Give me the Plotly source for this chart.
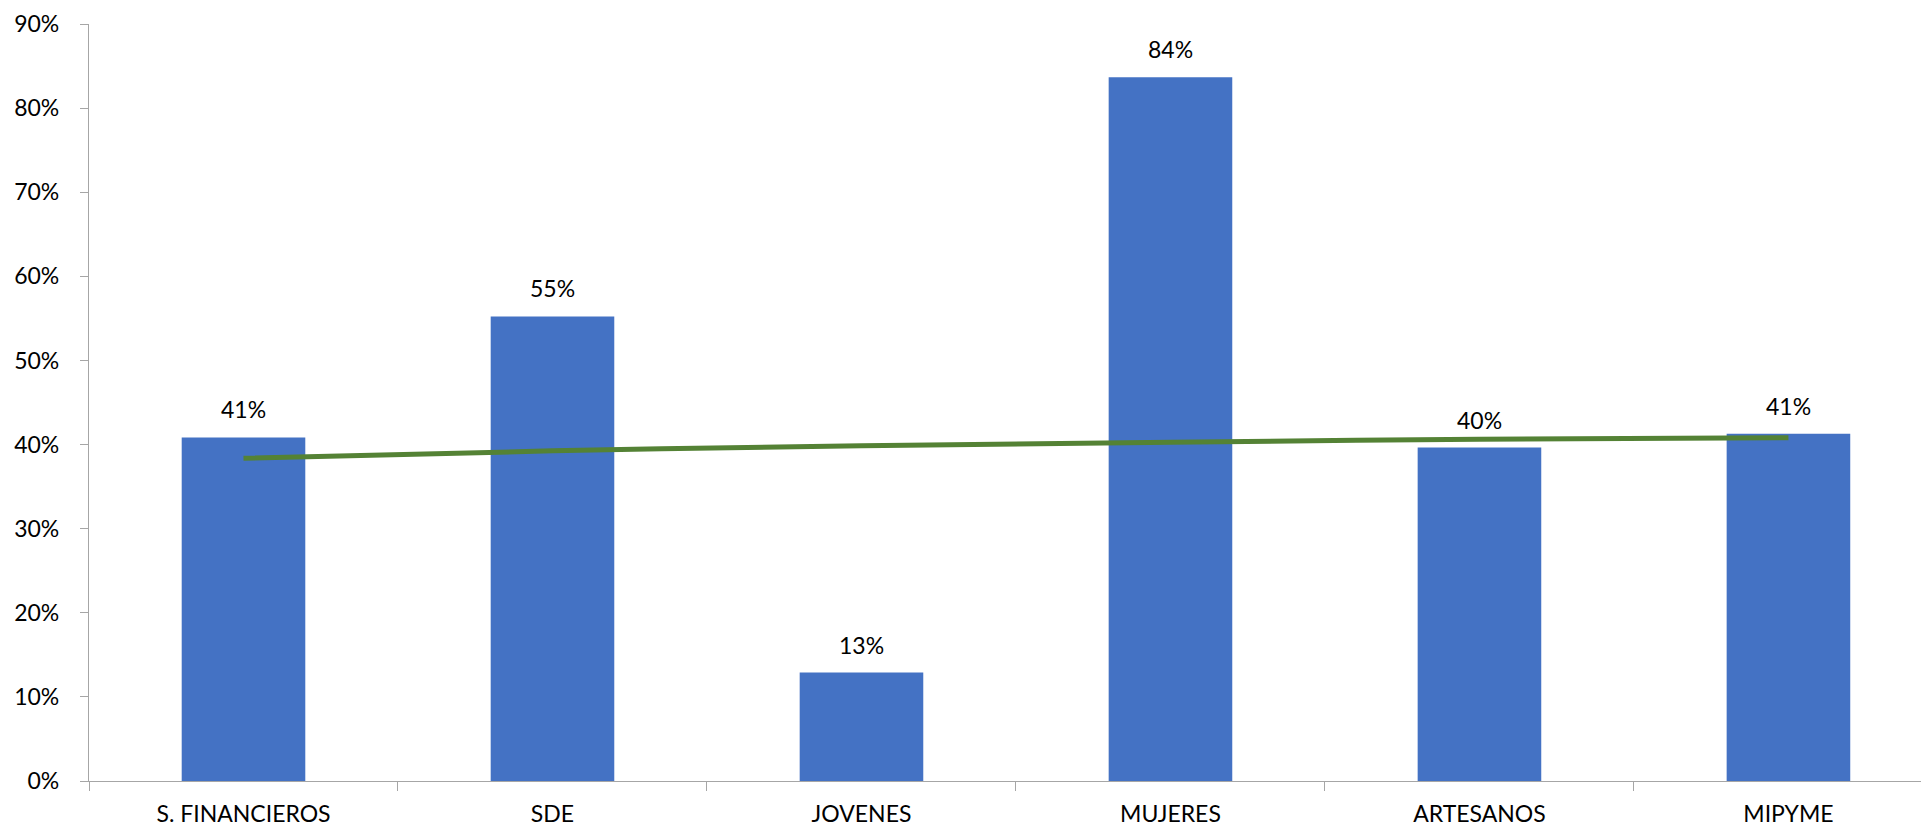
import plotly.graph_objects as go

categories = ["S. FINANCIEROS", "SDE", "JOVENES", "MUJERES", "ARTESANOS", "MIPYME"]
values = [0.4085, 0.5523, 0.1289, 0.8366, 0.3964, 0.4128]
trend_values = [0.3837, 0.3925, 0.3986, 0.4027, 0.4063, 0.4082]
y_ticks = [0, 0.1, 0.2, 0.3, 0.4, 0.5, 0.6, 0.7, 0.8, 0.9]

FONT = "Lato"
FSIZE = 23
fig = go.Figure()
fig.add_trace(go.Bar(
    x=categories, y=values, width=0.4,
    marker=dict(color="#4472C4", line=dict(width=0)),
    showlegend=False, hoverinfo="x+y",
))
fig.add_trace(go.Scatter(
    x=categories, y=trend_values, mode="lines",
    line=dict(color="#548235", width=5, shape="spline"),
    showlegend=False,
))
for c, v in zip(categories, values):
    fig.add_annotation(x=c, y=v, text=f"{v:.0%}", showarrow=False,
                       yanchor="bottom", yshift=12,
                       font=dict(family=FONT, size=FSIZE, color="#000000"))

fig.update_layout(
    width=1921, height=828,
    margin=dict(l=89, r=0, t=24, b=47),
    paper_bgcolor="white", plot_bgcolor="white",
    font=dict(family=FONT, size=FSIZE, color="#000000"),
    bargap=0.6,
)
fig.update_xaxes(
    type="category", range=[-0.5, 5.429],
    showline=True, linecolor="#a6a6a6", linewidth=1.2,
    ticks="outside", tickson="boundaries", ticklen=9, tickcolor="#a6a6a6",
    showgrid=False, zeroline=False, ticklabelstandoff=12,
)
fig.update_yaxes(
    range=[0, 0.9], tickvals=y_ticks, tickformat=".0%",
    showline=True, linecolor="#a6a6a6", linewidth=1.2,
    ticks="outside", ticklen=8, tickcolor="#a6a6a6",
    showgrid=False, zeroline=False, ticklabelstandoff=16,
)
fig.write_html(
    "out.html",
    config={"displayModeBar": False},
    post_script="document.body.style.margin='0';document.body.style.overflow='hidden';",
)
